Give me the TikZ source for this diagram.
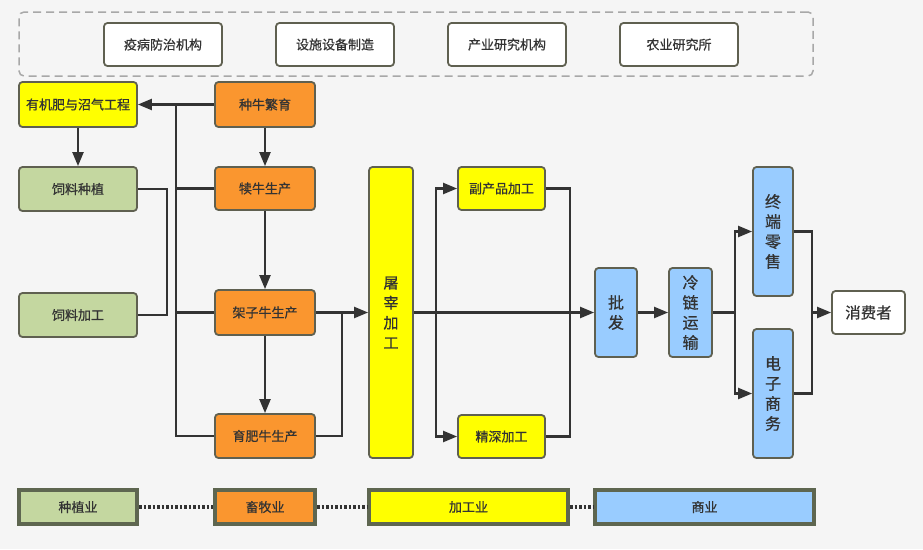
\documentclass[tikz,border=0pt]{standalone}
\usepackage{fontspec}
\setmainfont{Noto Sans CJK SC}[RawFeature={embolden=0.7}]
\usetikzlibrary{arrows.meta}
\definecolor{bgc}{HTML}{F5F5F5}
\definecolor{edgec}{HTML}{5F6050}
\definecolor{linec}{HTML}{333333}
\definecolor{orangec}{HTML}{FA962F}
\definecolor{yellowc}{HTML}{FFFF00}
\definecolor{greenc}{HTML}{C4D7A0}
\definecolor{bluec}{HTML}{99CCFF}
\definecolor{dashc}{HTML}{A8A8A8}
\definecolor{legedge}{HTML}{5E6650}
\begin{document}
\begin{tikzpicture}[x=1pt,y=-1pt,
  box/.style={draw=edgec,line width=1.8pt,rounded corners=3.5pt,inner sep=0pt,
    text=linec,font=\fontsize{13}{15}\selectfont},
  whitebox/.style={box,fill=white},
  orangebox/.style={box,fill=orangec},
  yellowbox/.style={box,fill=yellowc},
  greenbox/.style={box,fill=greenc},
  bluebox/.style={box,fill=bluec},
  vtext/.style={align=center,font=\fontsize{16}{20}\selectfont},
  legbox/.style={draw=legedge,line width=4pt,inner sep=0pt,text=linec,
    font=\fontsize{13}{15}\selectfont},
  conn/.style={draw=linec,line width=2.2pt},
  arr/.style={conn,-{Triangle[length=14pt,width=11pt]}},
  dotline/.style={draw=linec,line width=4pt,dash pattern=on 2.5pt off 2pt}
]
% background / bounding box
\fill[bgc] (0,0) rectangle (923,549);
\useasboundingbox (0,0) rectangle (923,549);

% dashed support frame
\node[draw=dashc,line width=1.5pt,dash pattern=on 8pt off 5pt,rounded corners=5pt,
  minimum width=794pt,minimum height=64pt,inner sep=0pt] (frame) at (416,44) {};
\node[whitebox,minimum width=118pt,minimum height=43pt] (yb) at (163,44.5) {疫病防治机构};
\node[whitebox,minimum width=118pt,minimum height=43pt] (ss) at (335,44.5) {设施设备制造};
\node[whitebox,minimum width=118pt,minimum height=43pt] (cy) at (507,44.5) {产业研究机构};
\node[whitebox,minimum width=118pt,minimum height=43pt] (ny) at (679,44.5) {农业研究所};

% left column
\node[yellowbox,minimum width=118pt,minimum height=45pt] (yjf) at (78,104.5) {有机肥与沼气工程};
\node[greenbox,minimum width=118pt,minimum height=44pt] (zz) at (78,189) {饲料种植};
\node[greenbox,minimum width=118pt,minimum height=44pt] (jg) at (78,315) {饲料加工};

% livestock column
\node[orangebox,minimum width=100pt,minimum height=45pt] (zn) at (265,104.5) {种牛繁育};
\node[orangebox,minimum width=100pt,minimum height=43pt] (dn) at (265,188.5) {犊牛生产};
\node[orangebox,minimum width=100pt,minimum height=45pt] (jz) at (265,312.5) {架子牛生产};
\node[orangebox,minimum width=100pt,minimum height=44pt] (yf) at (265,436) {育肥牛生产};

% processing
\node[yellowbox,minimum width=44pt,minimum height=291pt,vtext,font=\fontsize{15}{20}\selectfont] (tz) at (391,312.5) {屠\\宰\\加\\工};
\node[yellowbox,minimum width=87pt,minimum height=43pt] (fc) at (501.5,188.5) {副产品加工};
\node[yellowbox,minimum width=87pt,minimum height=43pt] (js) at (501.5,436.5) {精深加工};

% commerce
\node[bluebox,minimum width=42pt,minimum height=89pt,vtext] (pf) at (616,312.5) {批\\发};
\node[bluebox,minimum width=43pt,minimum height=89pt,vtext] (ll) at (690.5,312.5) {冷\\链\\运\\输};
\node[bluebox,minimum width=40pt,minimum height=129pt,vtext] (zd) at (773,231.5) {终\\端\\零\\售};
\node[bluebox,minimum width=40pt,minimum height=129pt,vtext] (ds) at (773,393.5) {电\\子\\商\\务};
\node[whitebox,minimum width=73pt,minimum height=43pt,font=\fontsize{15.5}{18}\selectfont] (xf) at (868.5,312.5) {消费者};

% helper coordinates
\coordinate (busL) at (176,104.5);
\coordinate (feedB) at (167,0);
\coordinate (fatB) at (342,0);
\coordinate (procB) at (436,312.5);
\coordinate (procR) at (570,0);
\coordinate (coldB) at (735,312.5);
\coordinate (retB) at (812,0);

% livestock links
\draw[arr] (zn.west) -- (yjf.east);
\draw[conn] (yf.west) -| (busL);
\draw[conn] (dn.west) -- (dn.west -| busL);
\draw[conn] (jz.west) -- (jz.west -| busL);
\draw[arr] (yjf.south) -- (zz.north);
\draw[conn] (zz.east) -| (jg.east -| feedB) -- (jg.east);
\draw[arr] (zn.south) -- (dn.north);
\draw[arr] (dn.south) -- (jz.north);
\draw[arr] (jz.south) -- (yf.north);
\draw[conn] (yf.east) -| (jz.east -| fatB);
\draw[arr] (jz.east) -- (tz.west);

% processing links
\draw[arr] (tz.east) -- (pf.west);
\draw[arr] (procB) |- (fc.west);
\draw[arr] (procB) |- (js.west);
\draw[conn] (fc.east) -| (js.east -| procR) -- (js.east);

% commerce links
\draw[arr] (pf.east) -- (ll.west);
\draw[conn] (ll.east) -- (coldB);
\draw[arr] (coldB) |- (zd.west);
\draw[arr] (coldB) |- (ds.west);
\draw[conn] (zd.east) -| (ds.east -| retB) -- (ds.east);
\draw[arr] (xf.west -| retB) -- (xf.west);

% legend
\node[legbox,fill=greenc,minimum width=118pt,minimum height=34pt] (lz) at (78,507) {种植业};
\node[legbox,fill=orangec,minimum width=100pt,minimum height=34pt] (lx) at (265,507) {畜牧业};
\node[legbox,fill=yellowc,minimum width=199pt,minimum height=34pt] (lj) at (468.5,507) {加工业};
\node[legbox,fill=bluec,minimum width=219pt,minimum height=34pt] (ls) at (704.5,507) {商业};
\draw[dotline] (lz.east) -- (lx.west);
\draw[dotline] (lx.east) -- (lj.west);
\draw[dotline] (lj.east) -- (ls.west);
\end{tikzpicture}
\end{document}
